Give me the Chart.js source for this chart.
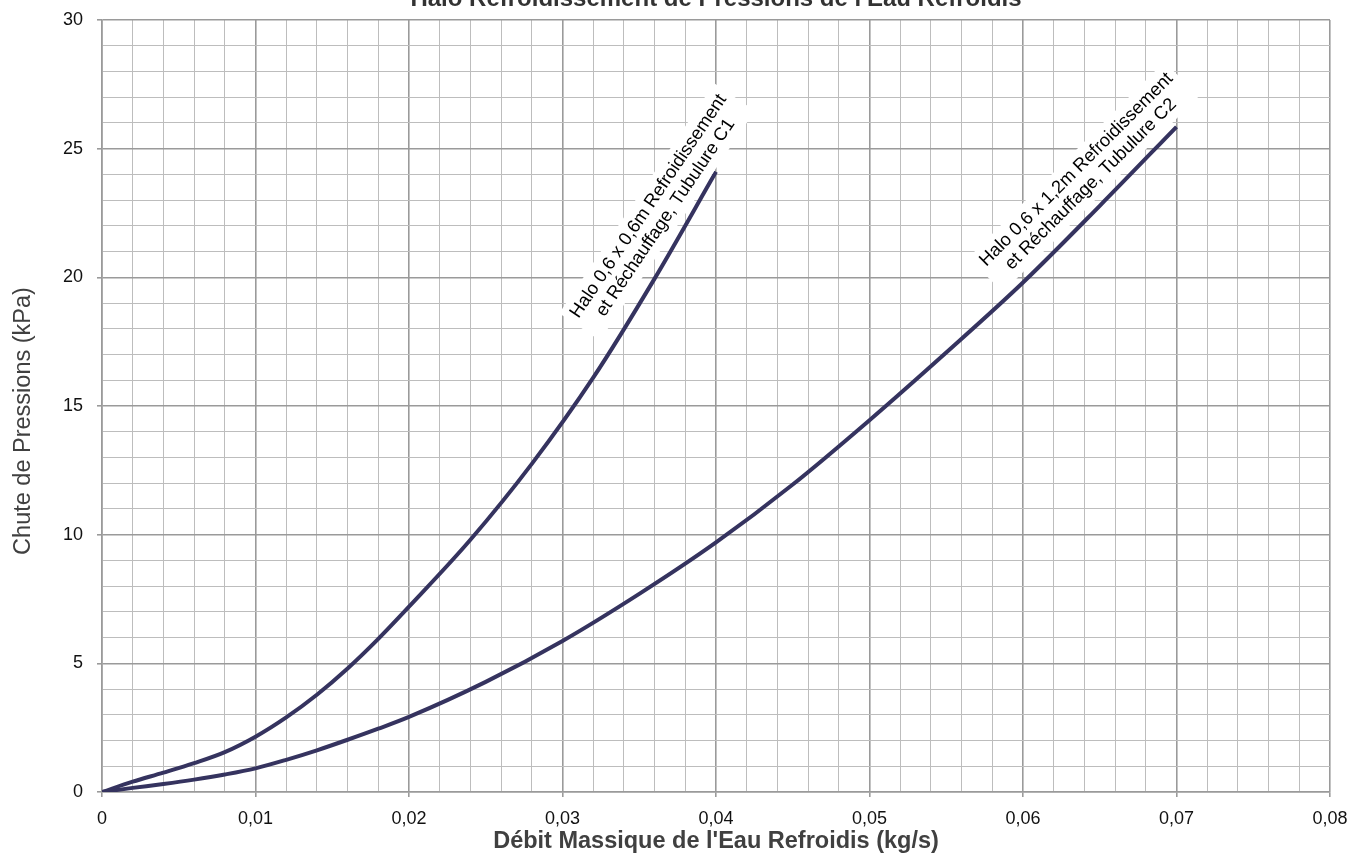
<!DOCTYPE html>
<html>
<head>
<meta charset="utf-8">
<script src="https://cdn.jsdelivr.net/npm/chart.js@4/dist/chart.umd.min.js"></script>
<style>
  html, body { margin: 0; padding: 0; background: #ffffff; }
  #wrap { width: 1357px; height: 858px; position: relative; }
</style>
</head>
<body>
<div id="wrap"><canvas id="c" width="1357" height="858"></canvas></div>
<script>
// ---- Data ----
const chartTitle = "Halo Refroidissement de Pressions de l'Eau Refroidis";
const xAxisTitle = "Débit Massique de l'Eau Refroidis (kg/s)";
const yAxisTitle = "Chute de Pressions (kPa)";

const c1Flow = [0, 0.002, 0.004, 0.006, 0.008, 0.010, 0.012, 0.014, 0.016, 0.018, 0.020, 0.024, 0.028, 0.032, 0.036, 0.040];
const c1Drop = [0, 0.40, 0.75, 1.12, 1.55, 2.15, 2.90, 3.78, 4.80, 5.95, 7.20, 9.80, 12.75, 16.10, 19.95, 24.10];

const c2Flow = [0, 0.002, 0.004, 0.006, 0.008, 0.010, 0.012, 0.014, 0.016, 0.018, 0.020, 0.025, 0.030, 0.035, 0.040, 0.045, 0.050, 0.055, 0.060, 0.065, 0.070];
const c2Drop = [0, 0.16, 0.31, 0.48, 0.68, 0.92, 1.25, 1.62, 2.03, 2.46, 2.92, 4.28, 5.87, 7.70, 9.70, 11.95, 14.45, 17.08, 19.80, 22.78, 25.85];

const xMajorTicks = [0, 0.01, 0.02, 0.03, 0.04, 0.05, 0.06, 0.07, 0.08];
const xMinorStep = 0.002;
const yMajorTicks = [0, 5, 10, 15, 20, 25, 30];
const yMinorStep = 1;

const curveLabels = [
  ["Halo 0,6 x 0,6m Refroidissement", "et Réchauffage, Tubulure C1"],
  ["Halo 0,6 x 1,2m Refroidissement", "et Réchauffage, Tubulure C2"]
];
// label anchors in data coordinates (x, y) and rotation in degrees
const labelAnchorX = [0.03616, 0.06395];
const labelAnchorY = [22.54, 23.9];
const labelAngle = [56, 45];

// ---- Build ----
const xMax = xMajorTicks[xMajorTicks.length - 1];
const yMax = yMajorTicks[yMajorTicks.length - 1];
const xGridValues = [];
for (let i = 0; i <= Math.round(xMax / xMinorStep); i++) xGridValues.push(+(i * xMinorStep).toFixed(4));
const yGridValues = [];
for (let i = 0; i <= Math.round(yMax / yMinorStep); i++) yGridValues.push(i * yMinorStep);

const isXMajor = v => xMajorTicks.some(m => Math.abs(m - v) < 1e-9);
const isYMajor = v => yMajorTicks.some(m => Math.abs(m - v) < 1e-9);

const FONT = "'Liberation Sans', Arial, sans-serif";
const MAJOR = '#9a9a9a', MINOR = '#bdbdbd';
const LINE = '#35335f';

const toPts = (xs, ys) => xs.map((x, i) => ({ x: x, y: ys[i] }));

const textPlugin = {
  id: 'texts',
  afterDraw(chart) {
    const { ctx, chartArea } = chart;
    ctx.save();
    ctx.font = "bold 24px " + FONT;
    ctx.fillStyle = '#333333';
    ctx.textAlign = 'center';
    ctx.textBaseline = 'alphabetic';
    ctx.fillText(chartTitle, (chartArea.left + chartArea.right) / 2, 5.5);
    // y axis title
    ctx.translate(24, (chartArea.top + chartArea.bottom) / 2 + 15);
    ctx.rotate(-Math.PI / 2);
    ctx.font = "23.5px " + FONT;
    ctx.fillStyle = '#404040';
    ctx.textBaseline = 'middle';
    ctx.fillText(yAxisTitle, 0, 0);
    ctx.restore();
  }
};

const labelPlugin = {
  id: 'curveLabels',
  afterDatasetsDraw(chart) {
    const { ctx } = chart;
    const xs = chart.scales.x, ys = chart.scales.y;
    ctx.save();
    ctx.font = "18.3px " + FONT;
    const lh = 20.5;
    curveLabels.forEach((lines, i) => {
      const cx = xs.getPixelForValue(labelAnchorX[i]);
      const cy = ys.getPixelForValue(labelAnchorY[i]);
      ctx.save();
      ctx.translate(cx, cy);
      ctx.rotate(-labelAngle[i] * Math.PI / 180);
      const w = Math.max(...lines.map(l => ctx.measureText(l).width));
      const h = lines.length * lh;
      ctx.fillStyle = '#ffffff';
      ctx.fillRect(-w / 2 - 6, -h / 2 - 4, w + 12, h + 8);
      ctx.fillStyle = '#000000';
      ctx.textAlign = 'center';
      ctx.textBaseline = 'middle';
      lines.forEach((l, j) => ctx.fillText(l, 0, (j - (lines.length - 1) / 2) * lh));
      ctx.restore();
    });
    ctx.restore();
  }
};

new Chart(document.getElementById('c'), {
  type: 'scatter',
  data: {
    datasets: [
      { label: 'C1', data: toPts(c1Flow, c1Drop), showLine: true, borderColor: LINE, borderWidth: 4,
        pointRadius: 0, pointHoverRadius: 0, cubicInterpolationMode: 'monotone', fill: false },
      { label: 'C2', data: toPts(c2Flow, c2Drop), showLine: true, borderColor: LINE, borderWidth: 4,
        pointRadius: 0, pointHoverRadius: 0, cubicInterpolationMode: 'monotone', fill: false }
    ]
  },
  options: {
    responsive: false,
    animation: false,
    devicePixelRatio: 1,
    layout: { padding: { top: 20, right: 27, left: 0, bottom: 0 } },
    plugins: { legend: { display: false }, tooltip: { enabled: false }, title: { display: false } },
    scales: {
      x: {
        type: 'linear', min: 0, max: xMax,
        afterBuildTicks: s => { s.ticks = xGridValues.map(v => ({ value: v })); },
        afterFit: s => { s.height = 66; s.paddingLeft = 0; s.paddingRight = 0; },
        ticks: {
          autoSkip: false, maxRotation: 0, minRotation: 0, padding: 11,
          color: '#111111', font: { family: FONT, size: 18 },
          callback: v => isXMajor(v) ? (v === 0 ? '0' : v.toFixed(2).replace('.', ',')) : ''
        },
        grid: {
          color: c => isXMajor(c.tick.value) ? MAJOR : MINOR,
          lineWidth: c => isXMajor(c.tick.value) ? 1.6 : 1,
          tickColor: c => isXMajor(c.tick.value) ? MAJOR : 'rgba(0,0,0,0)',
          tickLength: 5, drawTicks: true
        },
        border: { display: true, color: MAJOR, width: 1.6 },
        title: { display: true, text: xAxisTitle, color: '#404040',
          font: { family: FONT, size: 23.5, weight: 'bold' }, padding: { top: 0, bottom: 2 } }
      },
      y: {
        type: 'linear', min: 0, max: yMax,
        afterBuildTicks: s => { s.ticks = yGridValues.map(v => ({ value: v })); },
        afterFit: s => { s.width = 102; s.paddingTop = 0; s.paddingBottom = 0; },
        ticks: {
          autoSkip: false, padding: 14,
          color: '#111111', font: { family: FONT, size: 18 },
          callback: v => isYMajor(v) ? String(v) : ''
        },
        grid: {
          color: c => isYMajor(c.tick.value) ? MAJOR : MINOR,
          lineWidth: c => isYMajor(c.tick.value) ? 1.6 : 1,
          tickColor: c => isYMajor(c.tick.value) ? MAJOR : 'rgba(0,0,0,0)',
          tickLength: 5, drawTicks: true
        },
        border: { display: true, color: MAJOR, width: 1.6 },
        title: { display: false }
      }
    }
  },
  plugins: [textPlugin, labelPlugin]
});
</script>
</body>
</html>
